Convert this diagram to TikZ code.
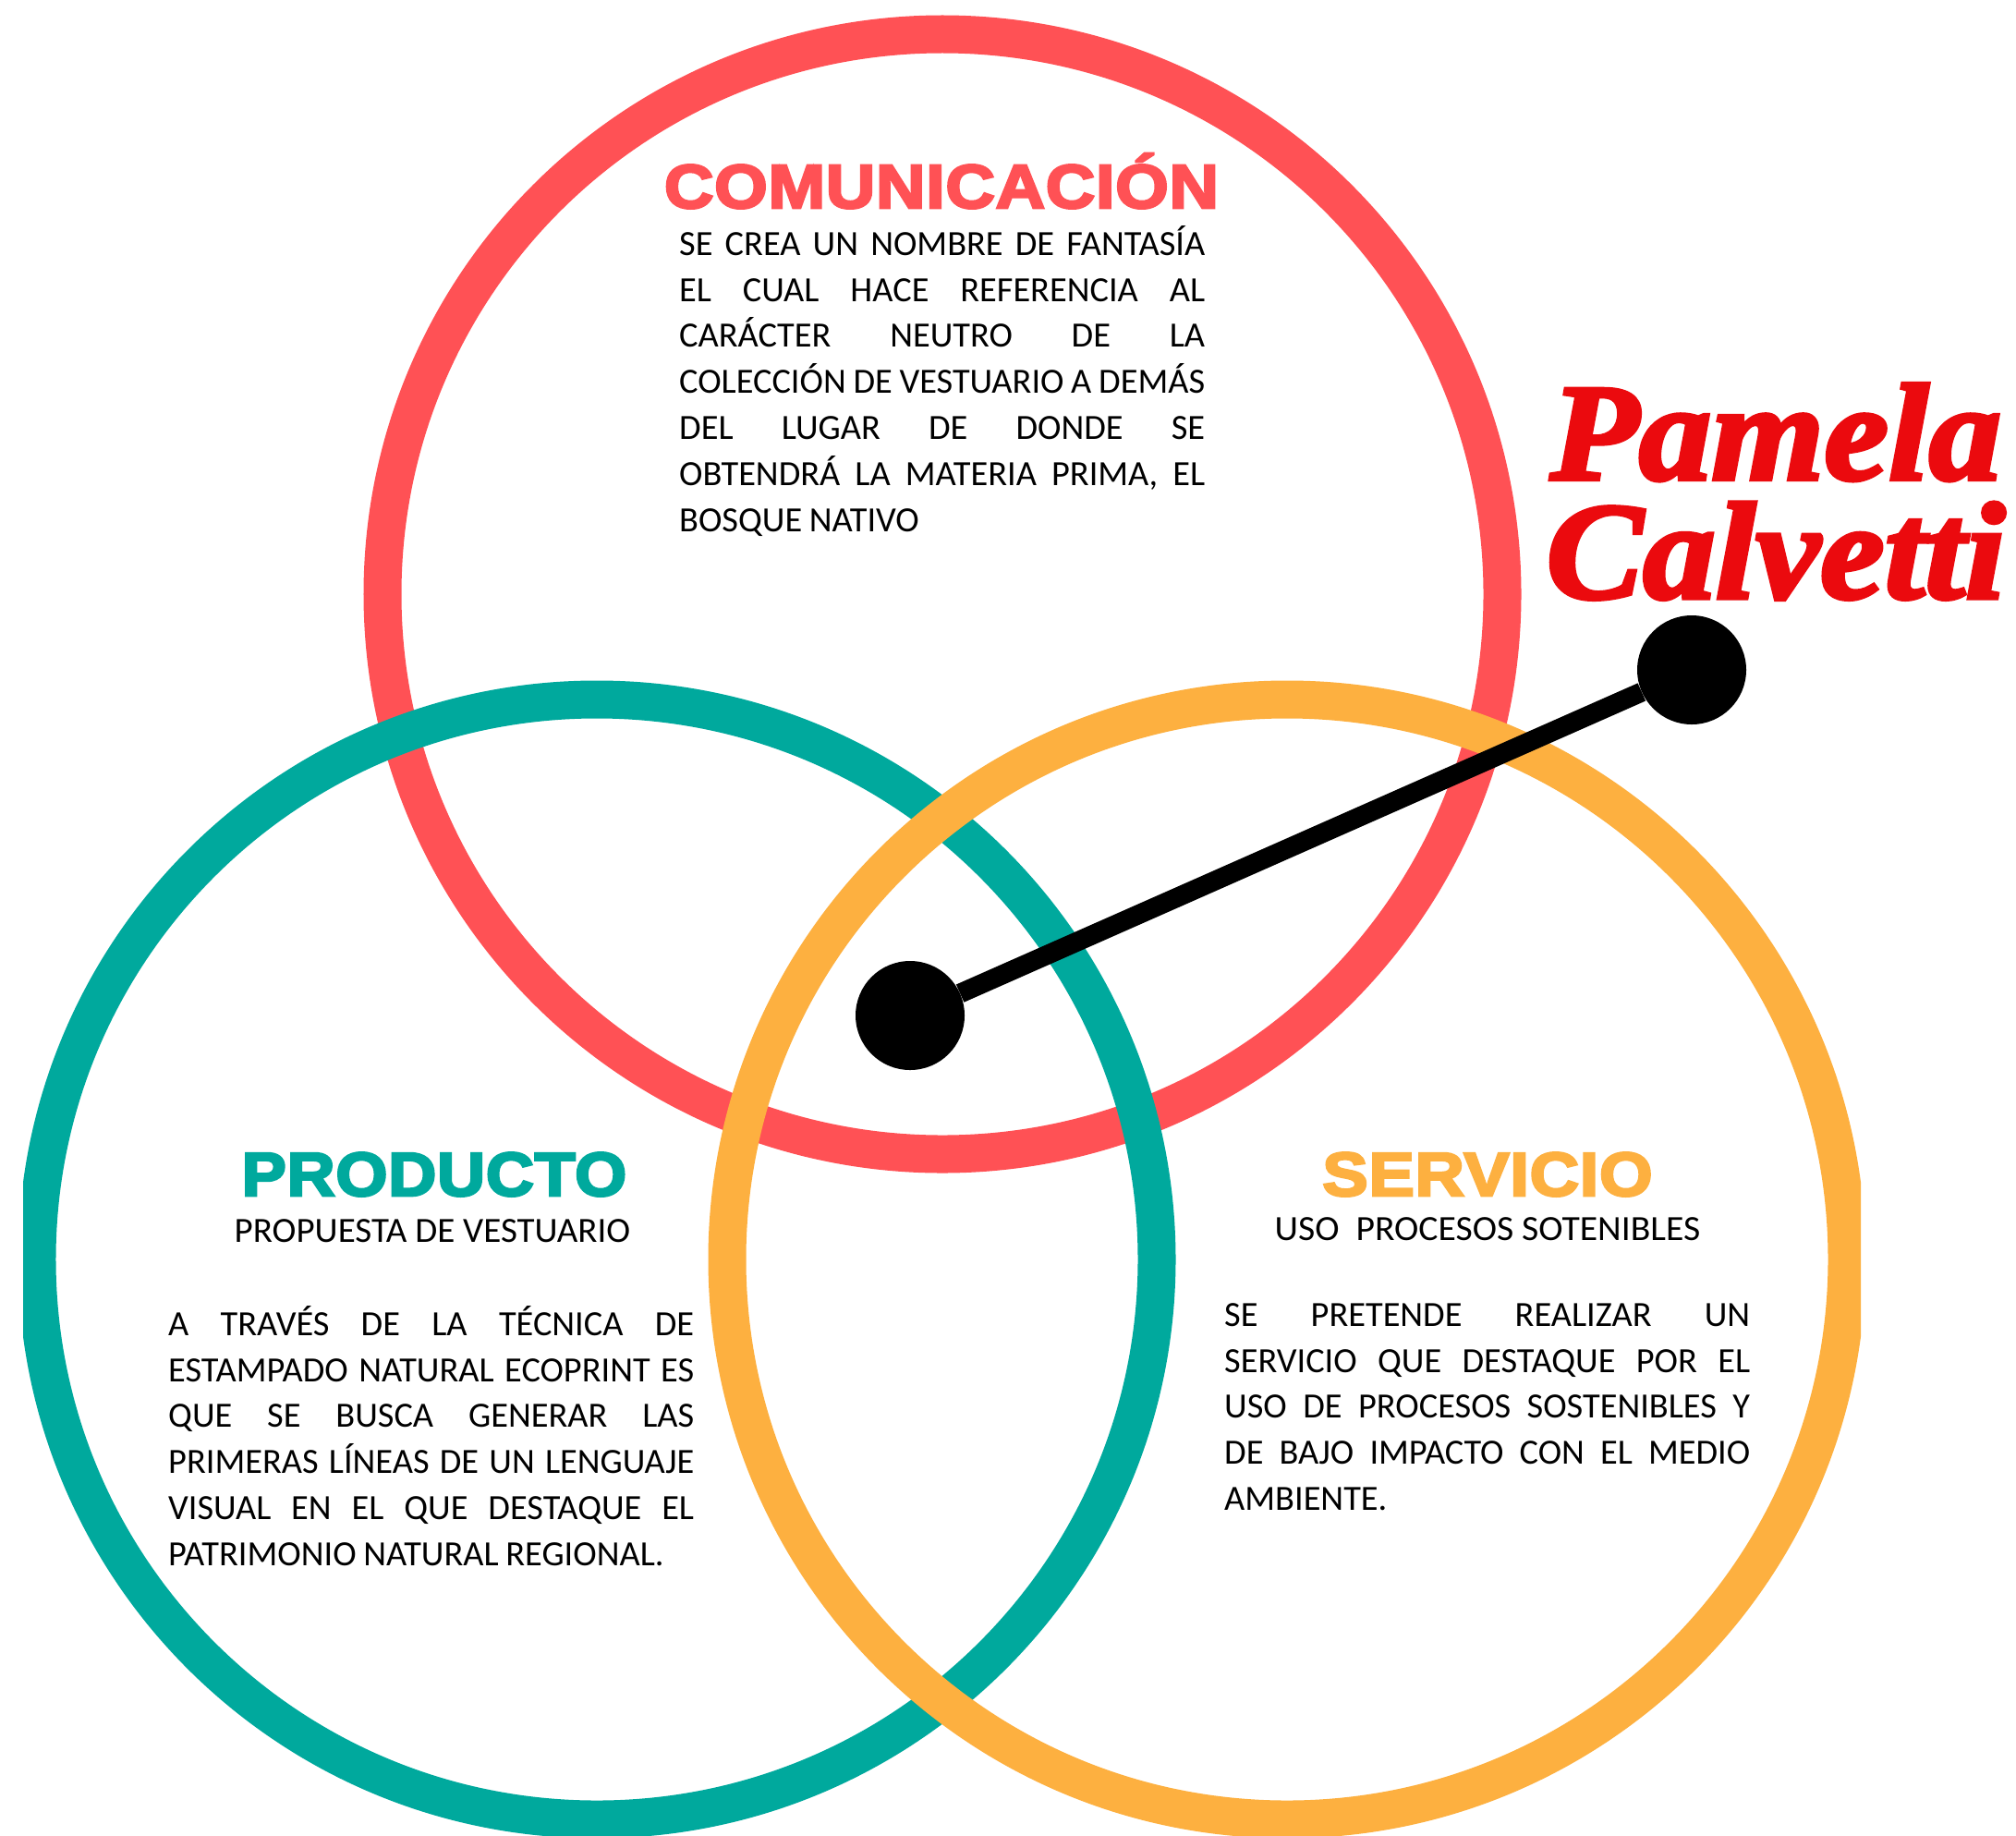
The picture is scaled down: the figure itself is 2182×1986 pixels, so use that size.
\documentclass[tikz,border=0pt]{standalone}
\usepackage{fontspec}
\usepackage{graphicx}
\usetikzlibrary{shapes.geometric}
\setmainfont{Carlito}
\newfontfamily\titlefont[FakeBold=4,FakeStretch=1.11,LetterSpace=1]{Liberation Sans Bold}
\newfontfamily\logofont[FakeBold=3,FakeStretch=1.05]{Liberation Serif Bold Italic}
\definecolor{cred}{HTML}{FF5155}
\definecolor{cteal}{HTML}{00A99D}
\definecolor{corange}{HTML}{FDB040}
\definecolor{clogo}{HTML}{EB0A0E}
\newcommand{\bodysize}{\fontsize{38.5}{50}\selectfont}
\newcommand{\jline}[1]{\hbox to 569bp{\spaceskip=.2em plus 1fil minus 1fil\rule{0pt}{40bp}#1}}
\newcommand{\lline}[1]{\hbox{\spaceskip=.2em\rule{0pt}{40bp}#1}}
\tikzset{
  x=1bp,y=-1bp,
  ring/.style={circle,draw=#1,line width=41bp,minimum size=1212bp,inner sep=0pt},
  dotn/.style={circle,fill=black,minimum size=118bp,inner sep=0pt},
  title/.style={anchor=base,inner sep=0pt,font=\titlefont\fontsize{67}{67}\selectfont,text=#1},
  sub/.style={anchor=base,inner sep=0pt,font=\bodysize},
  para/.style={anchor=north west,inner sep=0pt,text width=569bp,align=left,font=\bodysize},
  logo/.style={anchor=center,inner sep=0pt,align=center,text=clogo,font=\logofont\fontsize{150}{129}\selectfont},
}
\begin{document}
\begin{tikzpicture}
\useasboundingbox (0,0) rectangle (2182,1986);
\fill[white] (0,0) rectangle (2182,1986);
\begin{scope}
\clip (25,0) rectangle (2014,1986);
\node[ring=cred] (rojo) at (1020,643) {};
\node[ring=cteal] (verde) at (646,1363) {};
\node[ring=corange] (naranja) at (1393,1363) {};
\end{scope}
\node[dotn] (d1) at (985,1099) {};
\node[dotn] (d2) at (1831,725) {};
\draw[line width=21bp,black] (d1) -- (d2);
\node[title=cred] (t1) at (1019,225) {COMUNICACIÓN};
\node[para] (p1) at (735,236) {%
\jline{SE CREA UN NOMBRE DE FANTASÍA}
\jline{EL CUAL HACE REFERENCIA AL}
\jline{CARÁCTER NEUTRO DE LA}
\jline{COLECCIÓN DE VESTUARIO A DEMÁS}
\jline{DEL LUGAR DE DONDE SE}
\jline{OBTENDRÁ LA MATERIA PRIMA, EL}
\lline{BOSQUE NATIVO}};
\node[title=cteal] (t2) at (470,1294) {\scalebox{0.975}[1]{PRODUCTO}};
\node[sub] (s2) at (468,1344) {\scalebox{1.017}[1]{PROPUESTA DE VESTUARIO}};
\node[para] (p2) at (182,1405) {%
\jline{A TRAVÉS DE LA TÉCNICA DE}
\jline{ESTAMPADO NATURAL ECOPRINT ES}
\jline{QUE SE BUSCA GENERAR LAS}
\jline{PRIMERAS LÍNEAS DE UN LENGUAJE}
\jline{VISUAL EN EL QUE DESTAQUE EL}
\lline{PATRIMONIO NATURAL REGIONAL.}};
\node[title=corange] (t3) at (1610,1294) {SERVICIO};
\node[sub] (s3) at (1610,1342) {\scalebox{1.034}[1]{USO\ \ PROCESOS SOTENIBLES}};
\node[para] (p3) at (1325,1395) {%
\jline{SE PRETENDE REALIZAR UN}
\jline{SERVICIO QUE DESTAQUE POR EL}
\jline{USO DE PROCESOS SOSTENIBLES Y}
\jline{DE BAJO IMPACTO CON EL MEDIO}
\lline{AMBIENTE.}};
\node[logo] (lg) at (1922,532) {Pamela\\Calvetti};
\end{tikzpicture}
\end{document}
